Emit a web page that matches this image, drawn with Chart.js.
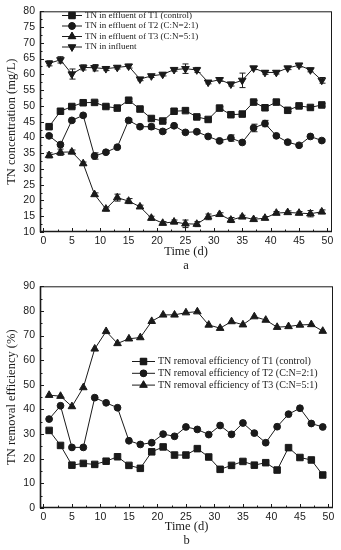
<!DOCTYPE html>
<html>
<head>
<meta charset="utf-8">
<script src="https://cdn.jsdelivr.net/npm/chart.js@4.4.0/dist/chart.umd.min.js"></script>
<style>
  html, body { margin: 0; padding: 0; background: #fff; }
  canvas { display: block; }
</style>
</head>
<body>
<canvas id="chartA" width="341" height="275"></canvas>
<canvas id="chartB" width="341" height="275"></canvas>
<script>
// sampling days (same for every series)
const days = [1, 3, 5, 7, 9, 11, 13, 15, 17, 19, 21, 23, 25, 27, 29, 31, 33, 35, 37, 39, 41, 43, 45, 47, 49];

// (a) TN concentration, mg/L
const tnInfluent = [63.5, 64.6, 60.1, 62.2, 62.1, 61.8, 62.2, 62.6, 58.5, 59.5, 60.0, 61.5, 61.8, 61.4, 57.5, 58.3, 56.9, 58.1, 62.0, 60.6, 60.6, 62.0, 62.9, 61.4, 58.1];
const tnT1 = [43.4, 48.3, 49.8, 51.0, 51.1, 49.8, 49.3, 51.8, 49.0, 46.0, 45.2, 48.3, 48.5, 46.5, 45.7, 49.3, 47.2, 47.4, 51.2, 49.4, 51.2, 48.6, 50.0, 49.5, 50.3];
const tnT2 = [40.5, 37.7, 45.4, 47.0, 34.1, 35.3, 36.9, 45.4, 43.4, 43.4, 41.9, 43.7, 41.6, 41.8, 40.3, 38.9, 39.8, 38.4, 43.0, 44.4, 40.5, 38.5, 37.5, 40.3, 39.0];
const tnT3 = [34.3, 35.3, 35.4, 31.7, 21.9, 17.3, 20.9, 19.8, 18.0, 14.4, 12.8, 13.2, 12.6, 12.5, 14.8, 15.6, 13.8, 14.8, 14.0, 14.4, 16.0, 16.2, 16.0, 15.8, 16.4];
// standard deviations (error bars)
const errInfluent = [0.8, 1.0, 1.6, 0.8, 1.0, 0.6, 0.5, 0.6, 0.5, 0.5, 0.5, 0.5, 1.5, 0.8, 0.5, 0.5, 0.6, 2.3, 0.5, 0.6, 0.5, 0.5, 0.6, 0.6, 0.9];
const errT1 = [0.5, 0.4, 0.4, 0.4, 0.4, 0.4, 0.4, 0.4, 0.4, 0.5, 0.4, 0.4, 0.5, 0.4, 0.4, 0.4, 0.4, 0.4, 0.5, 0.8, 0.4, 0.4, 0.4, 0.4, 0.4];
const errT2 = [0.4, 0.5, 0.4, 0.4, 1.0, 0.4, 0.4, 0.4, 0.4, 0.8, 0.4, 0.4, 0.4, 0.4, 0.4, 0.4, 1.0, 0.4, 1.2, 1.0, 0.4, 0.4, 0.4, 0.4, 0.4];
const errT3 = [0.8, 1.0, 0.6, 0.5, 0.5, 0.6, 1.1, 0.8, 0.5, 0.6, 0.5, 0.6, 1.2, 0.8, 0.9, 0.5, 0.8, 0.5, 0.5, 0.5, 0.5, 0.5, 0.5, 1.0, 0.6];

// (b) TN removal efficiency, %
const effT1 = [31.5, 25.4, 17.4, 18.1, 17.7, 19.0, 20.8, 17.3, 16.1, 22.8, 24.8, 21.5, 21.5, 24.1, 20.7, 15.7, 17.3, 18.9, 17.4, 18.4, 15.4, 24.5, 20.5, 19.5, 13.4];
const effT2 = [36.1, 41.5, 24.6, 24.6, 44.8, 42.7, 40.7, 27.3, 25.8, 26.5, 30.0, 29.1, 32.9, 31.9, 29.8, 33.5, 29.9, 34.5, 30.4, 26.5, 33.0, 38.1, 40.5, 34.3, 32.9];
const effT3 = [45.8, 45.4, 41.2, 48.9, 64.6, 71.7, 66.8, 68.7, 69.2, 75.8, 78.4, 78.4, 79.3, 79.7, 74.3, 73.0, 75.7, 74.4, 77.7, 76.3, 73.4, 73.7, 74.3, 74.5, 71.8];

const labelsA = ["TN in effluent of T1 (control)", "TN in effluent of T2 (C:N=2:1)", "TN in effluent of T3 (C:N=5:1)", "TN in influent"];
const labelsB = ["TN removal efficiency of T1 (control)", "TN removal efficiency of T2 (C:N=2:1)", "TN removal efficiency of T3 (C:N=5:1)"];

const INK = "#1a1a1a";
const SERIF = "'Liberation Serif', 'Times New Roman', serif";
const SANS = "'Liberation Sans', Arial, sans-serif";

function toPoints(values) {
    return values.map((v, i) => ({ x: days[i], y: v }));
}

function series(label, values, style, err) {
    return {
        label,
        data: toPoints(values),
        err: err || null,
        borderColor: INK,
        backgroundColor: INK,
        borderWidth: 1,
        pointStyle: style.shape,
        rotation: style.rotation || 0,
        pointRadius: style.radius,
        pointBackgroundColor: INK,
        pointBorderColor: INK,
        pointBorderWidth: 1,
        tension: 0,
    };
}

const SQUARE = { shape: "rect", radius: 4.6 };
const CIRCLE = { shape: "circle", radius: 3.4 };
const TRI_UP = { shape: "triangle", radius: 4.4 };
const TRI_DOWN = { shape: "triangle", radius: 4.4, rotation: 180 };

function isMultiple(v, step) {
    return Math.abs(v / step - Math.round(v / step)) < 1e-6;
}

// tick values from lo to hi every step
function tickRange(lo, hi, step) {
    const out = [];
    for (let v = lo; v <= hi + 1e-9; v += step) out.push({ value: Math.round(v * 100) / 100 });
    return out;
}

// box round the plot area plus inward tick marks
const framePlugin = {
    id: "frame",
    afterDraw(chart) {
        const { ctx, chartArea: a, scales } = chart;
        const opts = chart.options.plugins.frame;
        ctx.save();
        ctx.strokeStyle = INK;
        ctx.lineWidth = 1;
        ctx.strokeRect(a.left + 0.5, a.top + 0.5, a.right - a.left - 1, a.bottom - a.top - 1);
        ctx.lineWidth = 1.6;
        ctx.beginPath();
        ctx.moveTo(a.left + 0.5, a.top);
        ctx.lineTo(a.left + 0.5, a.bottom - 0.5);
        ctx.lineTo(a.right, a.bottom - 0.5);
        ctx.stroke();
        ctx.lineWidth = 1;
        ctx.beginPath();
        scales.x.ticks.forEach((t) => {
            const px = Math.round(scales.x.getPixelForValue(t.value)) + 0.5;
            const len = isMultiple(t.value, opts.xMajor) ? 4 : 2.5;
            ctx.moveTo(px, a.bottom);
            ctx.lineTo(px, a.bottom - len);
        });
        scales.y.ticks.forEach((t) => {
            const py = Math.round(scales.y.getPixelForValue(t.value)) + 0.5;
            const len = isMultiple(t.value, opts.yMajor) ? 4 : 2.5;
            ctx.moveTo(a.left, py);
            ctx.lineTo(a.left + len, py);
        });
        ctx.stroke();
        ctx.restore();
    },
};

// vertical error bars taken from dataset.err
const errorBarPlugin = {
    id: "errorBars",
    beforeDatasetsDraw(chart) {
        const { ctx, scales } = chart;
        ctx.save();
        ctx.strokeStyle = INK;
        ctx.lineWidth = 1;
        chart.data.datasets.forEach((ds, di) => {
            if (!ds.err) return;
            const meta = chart.getDatasetMeta(di);
            meta.data.forEach((pt, i) => {
                const e = ds.err[i];
                if (!e) return;
                const v = ds.data[i].y;
                const yTop = scales.y.getPixelForValue(v + e);
                const yBot = scales.y.getPixelForValue(v - e);
                const x = Math.round(pt.x) + 0.5;
                ctx.beginPath();
                ctx.moveTo(x, yTop);
                ctx.lineTo(x, yBot);
                ctx.moveTo(x - 3, yTop);
                ctx.lineTo(x + 3, yTop);
                ctx.moveTo(x - 3, yBot);
                ctx.lineTo(x + 3, yBot);
                ctx.stroke();
            });
        });
        ctx.restore();
    },
};

// legend drawn inside the plot area, like the original
const insideLegendPlugin = {
    id: "insideLegend",
    afterDraw(chart) {
        const o = chart.options.plugins.insideLegend;
        const { ctx } = chart;
        ctx.save();
        ctx.font = o.font;
        ctx.fillStyle = INK;
        ctx.textBaseline = "middle";
        chart.data.datasets.forEach((ds, i) => {
            const y = o.y + i * o.gap;
            ctx.strokeStyle = INK;
            ctx.lineWidth = 1;
            ctx.beginPath();
            ctx.moveTo(o.x, y + 0.5);
            ctx.lineTo(o.x + o.lineLen, y + 0.5);
            ctx.stroke();
            Chart.helpers.drawPoint(ctx, {
                pointStyle: ds.pointStyle,
                rotation: ds.rotation,
                radius: ds.pointRadius,
                borderWidth: 1,
            }, o.x + o.lineLen / 2, y + 0.5);
            ctx.fillStyle = INK;
            ctx.fill();
            ctx.fillText(ds.label, o.x + o.lineLen + 3, y + 0.5);
        });
        ctx.restore();
    },
};

function buildOptions(cfg) {
    return {
        responsive: false,
        animation: false,
        devicePixelRatio: 1,
        layout: { padding: { left: 0, top: cfg.padTop, right: cfg.padRight, bottom: 0 } },
        elements: { point: { hoverRadius: 4 } },
        plugins: {
            legend: { display: false },
            tooltip: { enabled: false },
            frame: { xMajor: 5, yMajor: cfg.yMajor },
            insideLegend: cfg.legend,
        },
        scales: {
            x: {
                type: "linear",
                min: -0.6,
                max: 50.8,
                grid: { display: false, drawTicks: false },
                border: { display: false },
                afterBuildTicks: (s) => { s.ticks = tickRange(0, 50, 2.5); },
                afterFit: (s) => { s.height = cfg.xHeight; },
                ticks: {
                    padding: 3,
                    color: INK,
                    font: { family: SANS, size: 10.5 },
                    maxRotation: 0,
                    autoSkip: false,
                    callback: (v) => (isMultiple(v, 5) ? String(v) : ""),
                },
                title: {
                    display: true,
                    text: ["Time (d)", cfg.panel],
                    color: INK,
                    font: { family: SERIF, size: 12.5, lineHeight: "14px" },
                    padding: { top: 0, bottom: 2 },
                },
            },
            y: {
                min: cfg.yMin,
                max: cfg.yMax,
                grid: { display: false, drawTicks: false },
                border: { display: false },
                afterBuildTicks: (s) => { s.ticks = tickRange(cfg.yMin, cfg.yMax, cfg.yMinor); },
                afterFit: (s) => { s.width = 40; },
                ticks: {
                    padding: 5,
                    color: INK,
                    font: { family: SANS, size: 10.5 },
                    autoSkip: false,
                    callback: (v) => (isMultiple(v, cfg.yMajor) ? String(v) : ""),
                },
                title: {
                    display: true,
                    text: cfg.yTitle,
                    color: INK,
                    font: { family: SERIF, size: 12.5 },
                    padding: { top: 4, bottom: 0 },
                },
            },
        },
    };
}

new Chart(document.getElementById("chartA"), {
    type: "line",
    data: {
        datasets: [
            series(labelsA[0], tnT1, SQUARE, errT1),
            series(labelsA[1], tnT2, CIRCLE, errT2),
            series(labelsA[2], tnT3, TRI_UP, errT3),
            series(labelsA[3], tnInfluent, TRI_DOWN, errInfluent),
        ],
    },
    options: buildOptions({
        padTop: 7, padRight: 9, xHeight: 43,
        yMin: 10, yMax: 80, yMinor: 2.5, yMajor: 5,
        yTitle: "TN concentration (mg/L)", panel: "a",
        legend: { x: 62, y: 15, gap: 10.5, lineLen: 20, font: "9px " + SERIF },
    }),
    plugins: [errorBarPlugin, framePlugin, insideLegendPlugin],
});

new Chart(document.getElementById("chartB"), {
    type: "line",
    data: {
        datasets: [
            series(labelsB[0], effT1, SQUARE),
            series(labelsB[1], effT2, CIRCLE),
            series(labelsB[2], effT3, TRI_UP),
        ],
    },
    options: buildOptions({
        padTop: 10, padRight: 8, xHeight: 42,
        yMin: 0, yMax: 90, yMinor: 5, yMajor: 10,
        yTitle: "TN removal efficiency (%)", panel: "b",
        legend: { x: 132, y: 86, gap: 11.8, lineLen: 23, font: "10px " + SERIF },
    }),
    plugins: [errorBarPlugin, framePlugin, insideLegendPlugin],
});
</script>
</body>
</html>
